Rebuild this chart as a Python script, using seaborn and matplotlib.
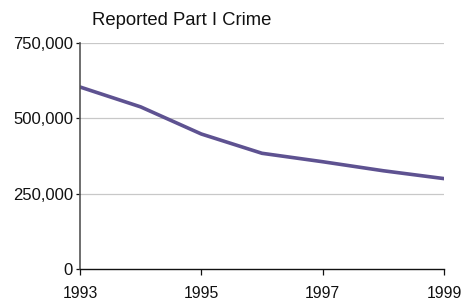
import numpy as np
import pandas as pd
import matplotlib
matplotlib.use("Agg")
import matplotlib.pyplot as plt
import seaborn as sns
from matplotlib.ticker import FuncFormatter

# data
years = [1993, 1994, 1995, 1996, 1997, 1998, 1999]
crimes = [604000, 538000, 448000, 384000, 356000, 326000, 300000]
xticks = [1993, 1995, 1997, 1999]
yticks = [0, 250000, 500000, 750000]

sns.set_theme(style="white")
plt.rcParams['font.family'] = ['Liberation Sans', 'DejaVu Sans']

df = pd.DataFrame({"year": years, "crimes": crimes})

fig = plt.figure(figsize=(4.61, 3.0), dpi=100)
ax = fig.add_axes([0.1735, 0.1033, 0.7896, 0.7534])

sns.lineplot(data=df, x="year", y="crimes", ax=ax, color="#5e5291", linewidth=2.6)

ax.set_xlim(1993, 1999)
ax.set_ylim(0, 750000)
ax.set_xticks(xticks)
ax.set_yticks(yticks)
ax.yaxis.set_major_formatter(FuncFormatter(lambda v, p: f"{int(v):,}"))
ax.set_xlabel("")
ax.set_ylabel("")

for y in yticks[1:]:
    ax.axhline(y, color="#c8c8c8", linewidth=0.9, zorder=0)

for s in ["top", "right"]:
    ax.spines[s].set_visible(False)
ax.spines["left"].set_color("#555555")
ax.spines["left"].set_linewidth(1.2)
ax.spines["bottom"].set_color("#111111")
ax.spines["bottom"].set_linewidth(1.0)

ax.tick_params(axis="x", labelsize=11.3, colors="#111111", length=4, width=0.9,
               direction="out", bottom=True, pad=8)
ax.tick_params(axis="y", labelsize=12, colors="#111111", length=3, width=0.9,
               direction="out", left=True, pad=2)

ax.text(0.033, 1.06, "Reported Part I Crime", transform=ax.transAxes,
        fontsize=13.3, color="#111111", ha="left", va="bottom")

fig.savefig("out.png", dpi=100)
